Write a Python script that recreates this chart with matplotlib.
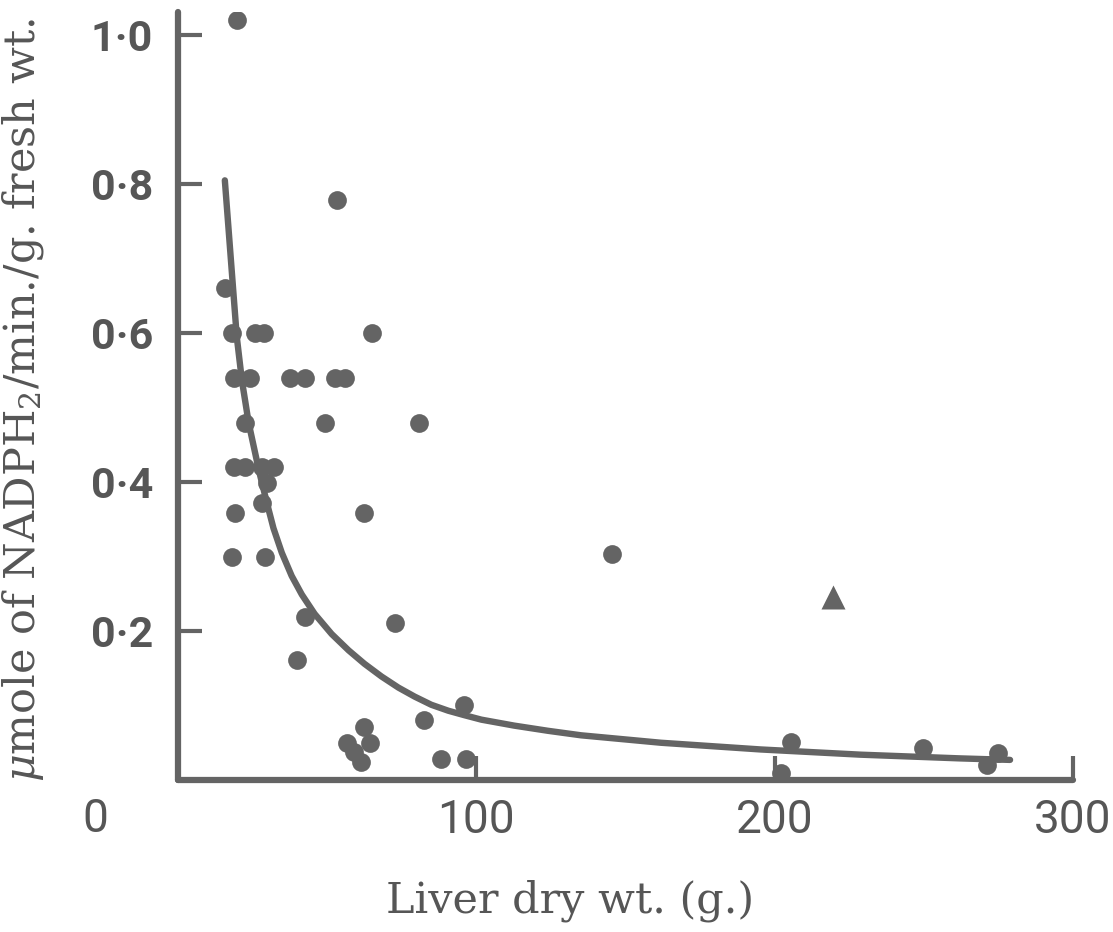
import matplotlib
matplotlib.use('Agg')
import matplotlib.pyplot as plt

# Scatter points (liver dry wt. in g, NADPH2 activity)
dot_x = [19.7, 53.2, 15.7,
         18.1, 25.8, 28.8, 64.9,
         18.7, 24.1, 37.5, 42.5, 52.5, 55.9,
         22.4, 49.2, 80.9,
         18.7, 22.4, 28.1, 32.1,
         29.8, 28.1, 19.1, 62.2, 18.1, 29.1,
         42.5, 39.8, 72.6, 96.0, 82.6,
         56.5, 58.9, 61.2, 62.2, 64.2, 88.3, 96.7,
         145.5, 205.4, 202.0, 249.8, 274.9, 271.2]
dot_y = [1.02, 0.779, 0.66,
         0.60, 0.60, 0.60, 0.60,
         0.54, 0.54, 0.54, 0.54, 0.54, 0.54,
         0.479, 0.479, 0.479,
         0.42, 0.42, 0.42, 0.42,
         0.399, 0.372, 0.358, 0.358, 0.30, 0.30,
         0.219, 0.161, 0.211, 0.101, 0.081,
         0.05, 0.038, 0.024, 0.071, 0.05, 0.028, 0.028,
         0.303, 0.051, 0.009, 0.043, 0.036, 0.02]

tri_x = [219.7]
tri_y = [0.246]

# fitted curve
curve_x = [15.7, 17.7, 19.7, 21.4, 23.7, 27.1, 29.8, 32.0, 34.8, 38.1,
           41.5, 45.8, 51.5, 57.2, 62.5, 68.2, 73.9, 79.3, 84.9, 90.6,
           96.0, 101.7, 112.7, 124.1, 135.1, 161.9, 195.3, 228.8, 262.2,
           278.9]
curve_y = [0.805, 0.700, 0.595, 0.537, 0.479, 0.416, 0.372, 0.338, 0.305,
           0.274, 0.249, 0.223, 0.196, 0.174, 0.156, 0.139, 0.124, 0.112,
           0.101, 0.093, 0.087, 0.081, 0.073, 0.066, 0.060, 0.050, 0.041,
           0.034, 0.029, 0.027]

xticks = [100, 200, 300]
yticks = [0.2, 0.4, 0.6, 0.8, 1.0]
ytick_labels = ['0\u00b72', '0\u00b74', '0\u00b76', '0\u00b78', '1\u00b70']

INK = '#646464'
TXT = '#565656'
W, H = 1113, 932

plt.rcParams['mathtext.fontset'] = 'dejavuserif'

fig = plt.figure(figsize=(W / 100, H / 100), dpi=100)
ax = fig.add_axes([178 / W, 1 - 780 / H, (1073 - 178) / W, (780 - 12) / H])

ax.plot(curve_x, curve_y, color=INK, lw=4.6, solid_capstyle='round',
        solid_joinstyle='round')
ax.plot(dot_x, dot_y, 'o', color=INK, ms=13.5, mec='none')
ax.plot(tri_x, tri_y, '^', color=INK, ms=17, mec='none')

ax.set_xlim(0, 300)
ax.set_ylim(0, 1.031)

for s in ['top', 'right']:
    ax.spines[s].set_visible(False)
for s in ['left', 'bottom']:
    ax.spines[s].set_color(INK)
    ax.spines[s].set_linewidth(4.5)
    ax.spines[s].set_capstyle('round')

ax.set_xticks(xticks)
ax.set_xticklabels([str(t) for t in xticks], family='Roboto', fontsize=33)
ax.set_yticks(yticks)
ax.set_yticklabels(ytick_labels, family='Roboto', fontweight='bold',
                   fontsize=31)
ax.tick_params(direction='in', length=17, width=3, color=INK,
               labelcolor=TXT)
ax.tick_params(axis='y', pad=18)
ax.tick_params(axis='x', pad=13)

# origin label sits well left of the axis corner
fig.text(95 / W, 1 - 819 / H, '0', ha='center', va='center',
         family='Roboto', fontsize=33, color=TXT)

fig.text(570 / W, 1 - 913 / H, 'Liver dry wt. (g.)', ha='center',
         va='baseline', family='DejaVu Serif', fontsize=31, color=TXT)
fig.text(35 / W, 1 - 400 / H,
         r'$\mu$mole of NADPH$_2$/min./g. fresh wt.',
         rotation=90, rotation_mode='anchor', ha='center', va='baseline',
         family='DejaVu Serif', fontsize=31, color=TXT)

fig.savefig('out.png', dpi=100)
